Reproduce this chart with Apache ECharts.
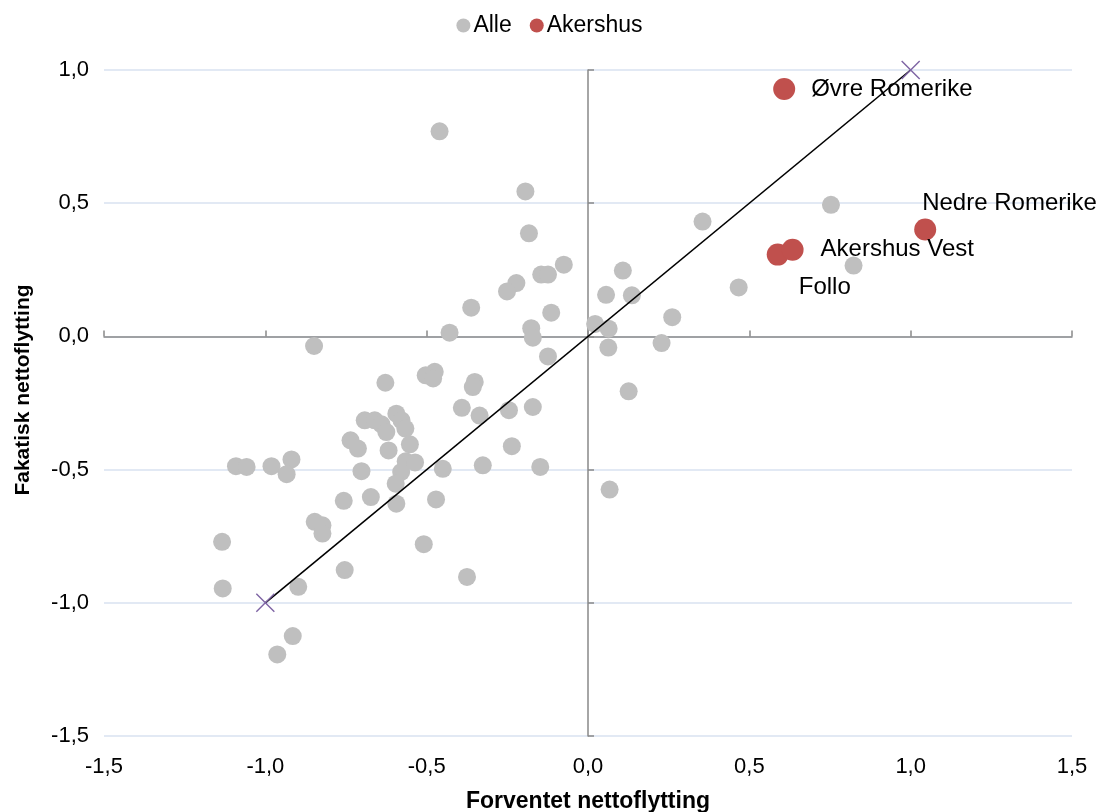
<!DOCTYPE html>
<html style="height: 100%;">
<head>
<meta charset="utf-8">
<title>Forventet og faktisk nettoflytting</title>
<script src="https://cdn.jsdelivr.net/npm/echarts@6/dist/echarts.min.js"></script>
</head>
<body style="height: 100%; margin: 0; background: #fff;">
<div id="container" style="width: 1099px; height: 812px;"></div>
<script type="text/javascript">
// Alle regioner (forventet, faktisk)
var alleX = [-0.46, -0.194, -0.183, -0.075, -0.145, -0.124, -0.222, -0.251, -0.362, -0.114,
  -0.429, -0.849, -0.176, -0.171, -0.124, 0.753, 0.355, 0.823, 0.467, 0.108,
  0.056, 0.136, 0.261, 0.022, 0.064, 0.063, 0.228, 0.126, 0.067, -0.628,
  -0.503, -0.475, -0.480, -0.351, -0.357, -0.391, -0.336, -0.245, -0.171, -0.236,
  -0.326, -0.148, -0.450, -0.471, -0.509, -0.375, -0.594, -0.578, -0.566, -0.692,
  -0.661, -0.640, -0.625, -0.736, -0.713, -0.618, -0.552, -0.565, -0.536, -0.579,
  -0.596, -0.702, -0.594, -0.673, -0.757, -0.847, -0.823, -0.823, -0.754, -0.898,
  -1.132, -1.134, -1.091, -1.058, -0.981, -0.919, -0.934, -0.915, -0.963];
var alleY = [0.77, 0.544, 0.387, 0.269, 0.232, 0.232, 0.200, 0.169, 0.108, 0.089,
  0.014, -0.036, 0.031, -0.005, -0.075, 0.494, 0.431, 0.266, 0.184, 0.247,
  0.156, 0.154, 0.072, 0.047, 0.029, -0.042, -0.025, -0.206, -0.575, -0.174,
  -0.146, -0.133, -0.158, -0.171, -0.190, -0.268, -0.297, -0.277, -0.265, -0.412,
  -0.484, -0.490, -0.497, -0.612, -0.780, -0.903, -0.290, -0.315, -0.346, -0.315,
  -0.315, -0.330, -0.359, -0.390, -0.421, -0.428, -0.405, -0.469, -0.473, -0.509,
  -0.553, -0.506, -0.628, -0.603, -0.617, -0.696, -0.709, -0.740, -0.877, -0.940,
  -0.946, -0.771, -0.487, -0.490, -0.487, -0.462, -0.517, -1.125, -1.194];

// Akershus
var akershusNavn = ['Øvre Romerike', 'Nedre Romerike', 'Follo', 'Akershus Vest'];
var akershusX = [0.608, 1.045, 0.588, 0.634];
var akershusY = [0.929, 0.401, 0.307, 0.325];

// 45-graderslinje
var linjeX = [-1, 1];
var linjeY = [-1, 1];

var xTicks = [-1.5, 1.5, 0.5];   // min, max, interval
var yTicks = [-1.5, 1.0, 0.5];

var font = "'Liberation Sans', Arial, sans-serif";
var fmt = function (v) { return v.toFixed(1).replace('.', ','); };

var labelPos = {
  'Øvre Romerike': { position: 'right', distance: 16 },
  'Nedre Romerike': { position: [8, -15], align: 'left', verticalAlign: 'middle' },
  'Follo': { position: [32, 44], align: 'left', verticalAlign: 'middle' },
  'Akershus Vest': { position: 'right', distance: 17 }
};

var alleData = alleX.map(function (x, i) { return [x, alleY[i]]; });
var akershusData = akershusX.map(function (x, i) {
  return { name: akershusNavn[i], value: [x, akershusY[i]], label: labelPos[akershusNavn[i]] };
});
var linjeData = linjeX.map(function (x, i) { return [x, linjeY[i]]; });

var dom = document.getElementById('container');
var myChart = echarts.init(dom);
var axisCol = '#898989';

var option = {
  animation: false,
  textStyle: { fontFamily: font },
  legend: {
    top: 9,
    left: 'center',
    itemWidth: 14,
    itemHeight: 14,
    itemGap: 18,
    textStyle: { fontSize: 23, color: '#000', fontFamily: font, padding: [0, 0, 0, -2] },
    data: [{ name: 'Alle', icon: 'circle' }, { name: 'Akershus', icon: 'circle' }]
  },
  grid: { left: 104, right: 27, top: 70, bottom: 76, outerBoundsMode: 'none', containLabel: false },
  xAxis: [{
    type: 'value', min: xTicks[0], max: xTicks[1], interval: xTicks[2],
    position: 'bottom',
    axisLine: { show: false, onZero: false },
    axisTick: { show: false },
    splitLine: { show: false },
    axisLabel: { formatter: fmt, fontSize: 22, color: '#000', margin: 20, fontFamily: font },
    name: 'Forventet nettoflytting', nameLocation: 'middle', nameGap: 54,
    nameTextStyle: { fontSize: 23, fontWeight: 'bold', color: '#000', fontFamily: font }
  }, {
    type: 'value', min: xTicks[0], max: xTicks[1], interval: xTicks[2],
    axisLine: { show: true, onZero: true, lineStyle: { color: axisCol, width: 1.5 } },
    axisTick: { show: true, length: 6, lineStyle: { color: axisCol, width: 1.5 } },
    axisLabel: { show: false },
    splitLine: { show: false }
  }],
  yAxis: [{
    type: 'value', min: yTicks[0], max: yTicks[1], interval: yTicks[2],
    axisLine: { show: false, onZero: false },
    axisTick: { show: false },
    splitLine: { show: true, lineStyle: { color: '#d9e2f1', width: 1.5 } },
    axisLabel: { formatter: fmt, fontSize: 22, color: '#000', margin: 15, fontFamily: font },
    name: 'Fakatisk nettoflytting', nameLocation: 'middle', nameGap: 70,
    nameTextStyle: { fontSize: 21, fontWeight: 'bold', color: '#000', fontFamily: font, padding: [0, 0, 0, 26] }
  }, {
    type: 'value', min: yTicks[0], max: yTicks[1], interval: yTicks[2],
    axisLine: { show: true, onZero: true, lineStyle: { color: axisCol, width: 1.5 } },
    axisTick: { show: true, length: 6, lineStyle: { color: axisCol, width: 1.5 } },
    axisLabel: { show: false },
    splitLine: { show: false }
  }],
  series: [{
    name: 'Alle', type: 'scatter',
    symbolSize: 18,
    itemStyle: { color: '#bfbfbf', opacity: 1 },
    data: alleData, z: 2
  }, {
    name: 'linje', type: 'line',
    data: linjeData,
    symbol: 'path://M0,0L10,10M10,0L0,10',
    symbolSize: 18,
    showSymbol: true,
    lineStyle: { color: '#000', width: 1.6 },
    itemStyle: { color: 'rgba(0,0,0,0)', borderColor: '#7e64a4', borderWidth: 1.4 },
    z: 3, silent: true
  }, {
    name: 'Akershus', type: 'scatter',
    symbolSize: 22,
    itemStyle: { color: '#c0504d', opacity: 1 },
    label: { show: true, formatter: '{b}', fontSize: 24, color: '#000', fontFamily: font },
    data: akershusData, z: 4
  }]
};
myChart.setOption(option);
</script>
</body>
</html>
